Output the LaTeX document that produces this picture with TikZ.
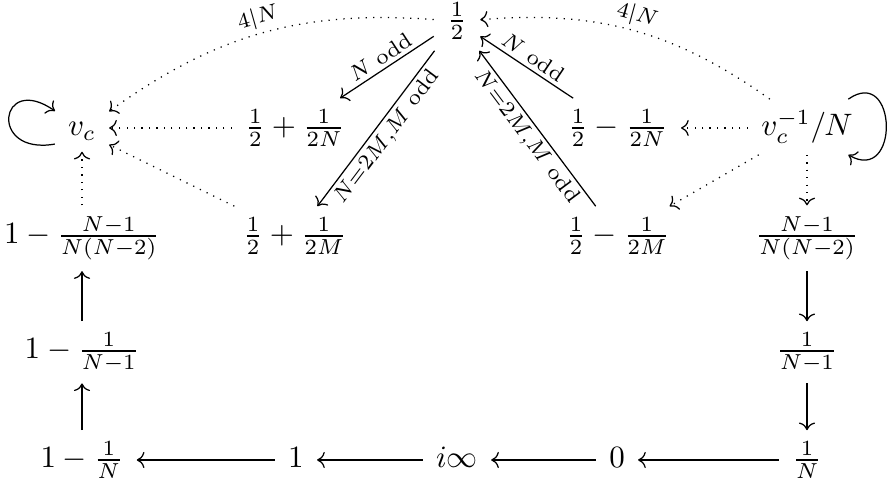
\documentclass[tikz,border=0pt]{standalone}
\usetikzlibrary{arrows.meta}
\begin{document}
\begin{tikzpicture}[x=0.32258pt,y=0.32258pt,
  cell/.style={anchor=base, yshift=-2.5pt, inner xsep=1ex, inner ysep=0.85ex, outer sep=0pt},
  arr/.style={-{Computer Modern Rightarrow}, line width=0.4pt},
  dotarr/.style={arr, dotted},
  lbl/.style={font=\scriptsize, inner sep=1.2pt}]
\useasboundingbox (0,0) rectangle (888,487);
% nodes
\node[cell] (h) at (457,466) {$\frac{1}{2}$};
\node[cell] (vc) at (82,359) {$v_c$};
\node[cell] (p2) at (295,359) {$\frac{1}{2}+\frac{1}{2N}$};
\node[cell] (m2) at (618,359) {$\frac{1}{2}-\frac{1}{2N}$};
\node[cell] (vn) at (807,359) {$v_c^{-1}/N$};
\node[cell] (a3) at (82,251) {$1-\frac{N-1}{N(N-2)}$};
\node[cell] (p3) at (295,251) {$\frac{1}{2}+\frac{1}{2M}$};
\node[cell] (m3) at (618,251) {$\frac{1}{2}-\frac{1}{2M}$};
\node[cell] (b3) at (807,251) {$\frac{N-1}{N(N-2)}$};
\node[cell] (a4) at (82,136) {$1-\frac{1}{N-1}$};
\node[cell] (b4) at (807,136) {$\frac{1}{N-1}$};
\node[cell] (a5) at (82,27) {$1-\frac{1}{N}$};
\node[cell] (one) at (296,27) {$1$};
\node[cell] (inf) at (457,27) {$i\infty$};
\node[cell] (zero) at (617,27) {$0$};
\node[cell] (b5) at (807,27) {$\frac{1}{N}$};
% bottom row
\draw[arr] ([yshift=2.5pt]b5.base west) -- ([yshift=2.5pt]zero.base east);
\draw[arr] ([yshift=2.5pt]zero.base west) -- ([yshift=2.5pt]inf.base east);
\draw[arr] ([yshift=2.5pt]inf.base west) -- ([yshift=2.5pt]one.base east);
\draw[arr] ([yshift=2.5pt]one.base west) -- ([yshift=2.5pt]a5.base east);
% verticals
\draw[arr] (a5) -- (a4);
\draw[arr] (a4) -- (a3);
\draw[arr] (b3) -- (b4);
\draw[arr] (b4) -- (b5);
% diagonals from 1/2
\draw[arr] (h) -- node[lbl,sloped,above]{$N$ odd} (p2);
\draw[arr] (h) -- node[lbl,sloped,below]{$N{=}2M{,}M$ odd} (p3);
\draw[arr] (m2) -- node[lbl,sloped,above]{$N$ odd} (h);
\draw[arr] (m3) -- node[lbl,sloped,below]{$N{=}2M{,}M$ odd} (h);
% dotted
\draw[dotarr] ([yshift=2.5pt]p2.base west) -- ([yshift=2.5pt]vc.base east);
\draw[dotarr] (p3) -- (vc);
\draw[dotarr] (a3) -- (vc);
\draw[dotarr] (h) to[bend right=20] node[lbl,sloped,above]{$4|N$} (vc);
\draw[dotarr] ([yshift=2.5pt]vn.base west) -- ([yshift=2.5pt]m2.base east);
\draw[dotarr] (vn) -- (m3);
\draw[dotarr] (vn) -- (b3);
\draw[dotarr] (vn) to[bend right=20] node[lbl,sloped,above]{$4|N$} (h);
% loops
\draw[arr] (vc.205) .. controls +(190:68) and +(145:68) .. (vc.143);
\draw[arr] (vn.34) .. controls +(35:60) and +(-30:60) .. (vn.-34);
\end{tikzpicture}
\end{document}
